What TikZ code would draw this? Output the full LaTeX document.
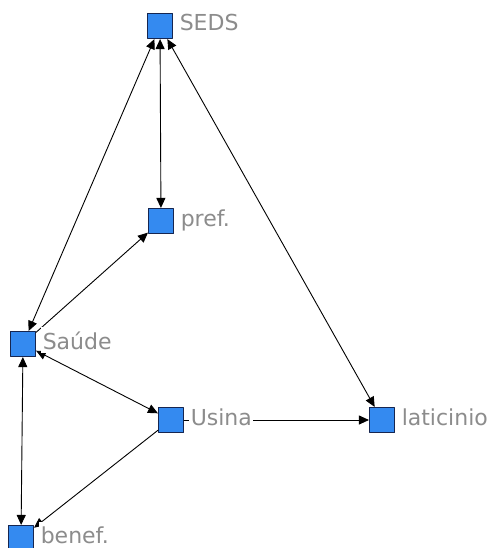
\documentclass[tikz,border=0pt]{standalone}
\usepackage{fontspec}
\setsansfont{DejaVu Sans}
\usepackage{xcolor}
\usetikzlibrary{arrows.meta,positioning}
\definecolor{actorblue}{RGB}{52,138,240}
\definecolor{actorline}{RGB}{22,38,80}
\definecolor{labelgray}{RGB}{140,140,140}
\tikzset{
  every picture/.append style={line cap=round,line join=round},
  net actor/.style={rectangle,fill=actorblue,draw=actorline,line width=1.1pt,minimum size=25pt,inner sep=0pt},
  net label/.style={font=\sffamily\fontsize{22}{22}\selectfont,text=labelgray,fill=white,inner xsep=1.5pt,inner ysep=4pt,anchor=base west},
  net tie/.style={line width=0.9pt,-{Triangle[length=10pt,width=9pt]}},
  net mutual/.style={line width=0.9pt,{Triangle[length=10pt,width=9pt]}-{Triangle[length=10pt,width=9pt]}}
}

\begin{document}
\begin{tikzpicture}[x=1pt,y=-1pt]
\useasboundingbox[fill=white] (0,0) rectangle (487,548);
% actors
\node[net actor] (seds) at (160,26) {};
\node[net actor] (pref) at (161,221) {};
\node[net actor] (saude) at (23,344) {};
\node[net actor] (usina) at (171,420) {};
\node[net actor] (laticinio) at (382,420) {};
\node[net actor] (benef) at (21,538) {};
% ties
\draw[net mutual] (seds) -- (pref);
\draw[net mutual] (seds) -- (saude);
\draw[net mutual] (seds) -- (laticinio);
\draw[net tie] (saude) -- (pref);
\draw[net mutual] (saude) -- (usina);
\draw[net mutual] (saude) -- (benef);
\draw[net tie] (usina) -- (laticinio);
\draw[net tie] (usina) -- (benef);
% names sit on top of the ties
\foreach \n/\lab in {
  seds/SEDS,
  pref/pref.,
  saude/Saúde,
  usina/Usina,
  laticinio/laticinio,
  benef/benef.
}{
  \node[net label] (\n-lbl) at ([xshift=5pt,yshift=-5pt]\n.east) {\lab};
}
\end{tikzpicture}
\end{document}
